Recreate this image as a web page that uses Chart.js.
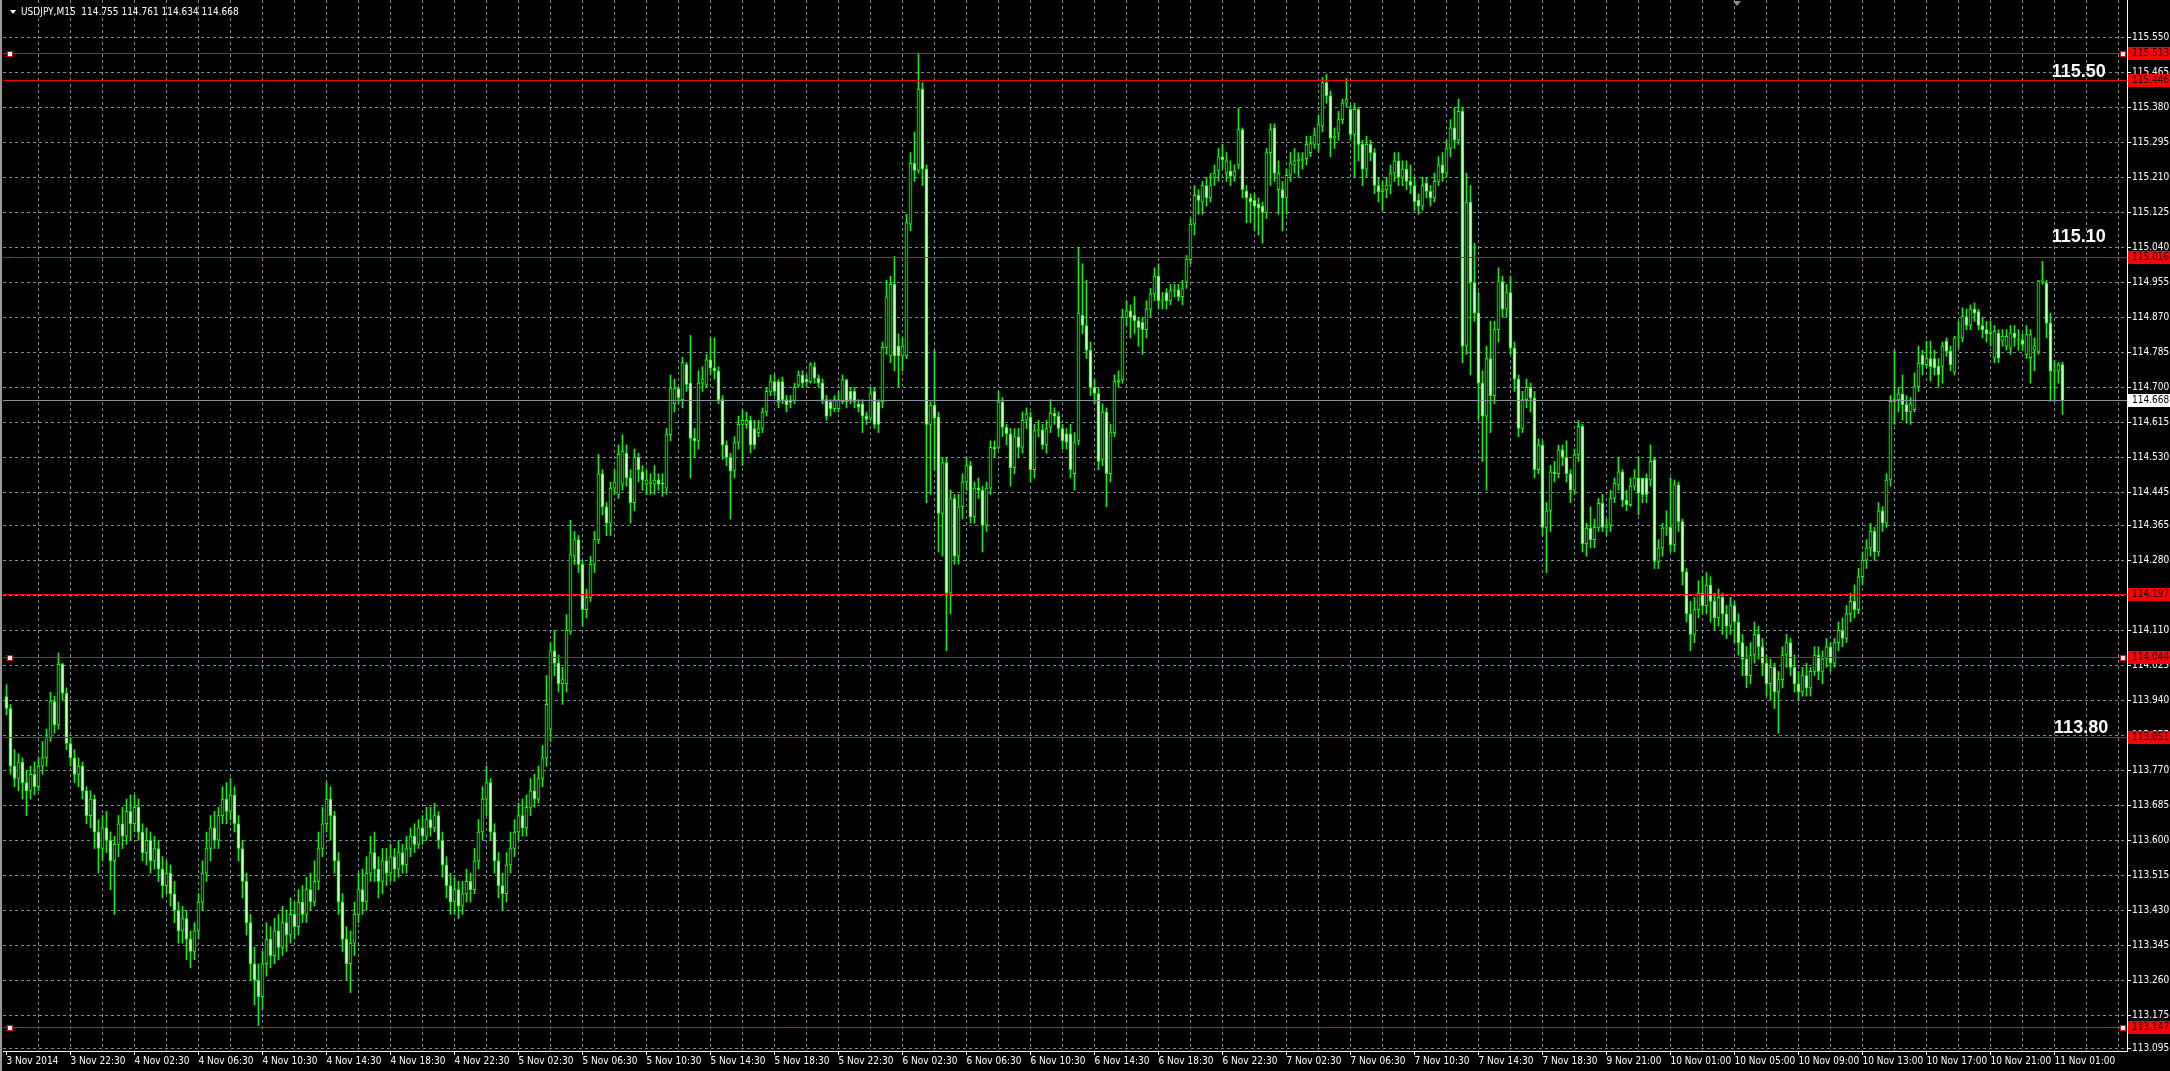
<!DOCTYPE html>
<html>
<head>
<meta charset="utf-8">
<script src="https://cdn.jsdelivr.net/npm/chart.js@4.4.1/dist/chart.umd.min.js"></script>
<style>
html, body { margin: 0; padding: 0; background: #000; overflow: hidden; }
canvas { display: block; position: absolute; left: 0; top: 0; }
</style>
</head>
<body>
<canvas id="chartM15" width="2170" height="1071"></canvas>
<script>
// USDJPY M15 candles, 3 Nov 2014 -> 11 Nov 2014
const openP = [
113.949,113.92,113.78,113.75,113.79,113.74,113.72,113.76,113.73,113.78,
113.80,113.85,113.937,113.88,114.027,113.957,113.835,113.80,113.76,113.78,
113.72,113.66,113.70,113.62,113.58,113.63,113.60,113.55,113.59,113.64,
113.61,113.67,113.64,113.68,113.62,113.57,113.60,113.55,113.58,113.53,
113.49,113.52,113.47,113.43,113.38,113.41,113.36,113.33,113.38,113.45,
113.52,113.58,113.63,113.60,113.66,113.70,113.67,113.71,113.64,113.58,
113.50,113.40,113.30,113.26,113.22,113.30,113.36,113.32,113.38,113.34,
113.40,113.37,113.42,113.39,113.45,113.42,113.48,113.45,113.50,113.58,
113.64,113.70,113.66,113.55,113.45,113.36,113.30,113.35,113.42,113.48,
113.45,113.52,113.57,113.53,113.50,113.55,113.52,113.56,113.53,113.57,
113.54,113.58,113.61,113.59,113.63,113.61,113.65,113.63,113.66,113.60,
113.54,113.49,113.45,113.48,113.44,113.47,113.50,113.48,113.55,113.62,
113.70,113.74,113.62,113.55,113.49,113.47,113.54,113.58,113.62,113.66,
113.63,113.68,113.72,113.70,113.75,113.80,113.87,114.06,114.03,113.98,
113.98,114.107,114.29,114.33,114.27,114.16,114.19,114.27,114.33,114.49,
114.41,114.37,114.455,114.44,114.465,114.54,114.48,114.42,114.53,114.495,
114.465,114.466,114.465,114.475,114.466,114.455,114.585,114.66,114.697,114.67,
114.755,114.71,114.576,114.57,114.71,114.706,114.767,114.747,114.74,114.67,
114.56,114.53,114.497,114.566,114.61,114.61,114.62,114.60,114.59,114.60,
114.64,114.69,114.714,114.714,114.714,114.67,114.665,114.668,114.705,114.73,
114.72,114.714,114.75,114.722,114.71,114.67,114.665,114.648,114.648,114.665,
114.718,114.69,114.69,114.66,114.66,114.63,114.625,114.69,114.665,114.665,
114.797,114.776,114.95,114.80,114.776,114.776,115.096,115.244,115.227,115.424,
115.23,114.61,114.657,114.628,114.394,114.517,114.20,114.43,114.29,114.41,
114.47,114.51,114.385,114.455,114.45,114.365,114.455,114.554,114.554,114.665,
114.603,114.587,114.505,114.58,114.554,114.62,114.628,114.50,114.595,114.597,
114.56,114.603,114.637,114.63,114.60,114.587,114.587,114.49,114.57,114.875,
114.85,114.79,114.70,114.685,114.525,114.64,114.49,114.59,114.714,114.718,
114.87,114.886,114.875,114.862,114.858,114.84,114.89,114.927,114.97,114.91,
114.93,114.91,114.935,114.937,114.92,114.955,115.01,115.096,115.166,115.15,
115.19,115.16,115.21,115.227,115.26,115.22,115.225,115.213,115.24,115.326,
115.177,115.16,115.154,115.145,115.14,115.125,115.27,115.33,115.18,115.18,
115.16,115.215,115.24,115.25,115.25,115.255,115.27,115.29,115.29,115.334,
115.44,115.408,115.305,115.317,115.35,115.39,115.375,115.314,115.375,115.29,
115.23,115.29,115.27,115.19,115.175,115.18,115.19,115.22,115.25,115.21,
115.23,115.20,115.19,115.155,115.14,115.196,115.176,115.16,115.20,115.24,
115.22,115.28,115.33,115.30,115.37,114.80,115.15,114.955,114.88,114.71,
114.63,114.77,114.68,114.84,114.957,114.89,114.93,114.795,114.72,114.60,
114.67,114.70,114.674,114.50,114.56,114.36,114.40,114.495,114.49,114.548,
114.53,114.49,114.45,114.536,114.605,114.32,114.358,114.33,114.36,114.418,
114.36,114.365,114.43,114.463,114.495,114.426,114.415,114.46,114.48,114.479,
114.479,114.475,114.524,114.277,114.31,114.358,114.36,114.317,114.463,114.374,
114.252,114.15,114.10,114.16,114.20,114.17,114.22,114.18,114.14,114.19,
114.15,114.12,114.17,114.13,114.08,114.04,114.00,114.05,114.10,114.07,
114.03,113.98,114.02,113.96,113.99,114.05,114.08,114.02,113.98,113.96,
114.00,113.97,114.01,114.05,114.01,114.04,114.07,114.03,114.08,114.11,
114.09,114.15,114.18,114.16,114.24,114.28,114.31,114.35,114.30,114.40,
114.37,114.475,114.666,114.67,114.684,114.658,114.64,114.646,114.702,114.778,
114.755,114.77,114.77,114.751,114.751,114.812,114.788,114.737,114.82,114.82,
114.872,114.85,114.89,114.884,114.85,114.84,114.83,114.771,114.832,114.812,
114.80,114.795,114.832,114.815,114.815,114.78,114.772,114.79,114.787,114.958,
114.953,114.856,114.739,114.74,114.755
];
const highP = [
113.978,113.93,113.82,113.81,113.80,113.77,113.78,113.79,113.80,113.84,
113.87,113.96,113.95,114.055,114.03,113.97,113.85,113.82,113.80,113.79,
113.73,113.72,113.71,113.65,113.66,113.67,113.62,113.61,113.66,113.68,
113.70,113.71,113.71,113.70,113.64,113.63,113.62,113.61,113.60,113.56,
113.55,113.54,113.50,113.45,113.44,113.43,113.38,113.40,113.47,113.55,
113.62,113.66,113.67,113.68,113.73,113.74,113.75,113.73,113.66,113.60,
113.52,113.42,113.34,113.30,113.33,113.40,113.39,113.41,113.42,113.44,
113.43,113.46,113.45,113.48,113.49,113.51,113.52,113.55,113.62,113.68,
113.74,113.73,113.67,113.57,113.47,113.39,113.38,113.45,113.52,113.53,
113.56,113.61,113.62,113.56,113.58,113.58,113.59,113.58,113.60,113.59,
113.61,113.63,113.64,113.65,113.66,113.68,113.68,113.69,113.67,113.62,
113.56,113.52,113.51,113.50,113.50,113.53,113.52,113.58,113.65,113.73,
113.78,113.75,113.64,113.57,113.52,113.57,113.62,113.65,113.69,113.70,
113.71,113.75,113.76,113.78,113.83,114.00,114.08,114.11,114.05,114.02,
114.148,114.377,114.35,114.34,114.28,114.21,114.29,114.35,114.537,114.50,
114.42,114.47,114.50,114.56,114.585,114.56,114.50,114.55,114.54,114.51,
114.50,114.49,114.51,114.49,114.49,114.60,114.73,114.72,114.70,114.773,
114.76,114.826,114.60,114.74,114.75,114.78,114.82,114.82,114.75,114.68,
114.57,114.54,114.58,114.63,114.645,114.64,114.63,114.62,114.62,114.65,
114.70,114.73,114.73,114.72,114.725,114.68,114.68,114.71,114.74,114.74,
114.73,114.76,114.76,114.73,114.72,114.68,114.67,114.68,114.69,114.73,
114.72,114.70,114.70,114.67,114.67,114.64,114.70,114.70,114.67,114.81,
114.96,114.97,115.018,114.83,114.82,115.12,115.27,115.32,115.512,115.44,
115.24,114.665,114.79,114.64,114.53,114.53,114.45,114.44,114.44,114.49,
114.53,114.52,114.47,114.48,114.46,114.47,114.57,114.57,114.69,114.675,
114.61,114.60,114.60,114.60,114.64,114.65,114.64,114.61,114.62,114.61,
114.62,114.67,114.65,114.64,114.61,114.60,114.61,114.59,115.04,115.00,
114.96,114.81,114.72,114.70,114.66,114.65,114.61,114.73,114.74,114.89,
114.91,114.90,114.92,114.87,114.87,114.91,114.94,114.99,115.00,114.93,
114.94,114.95,114.95,114.95,114.96,115.02,115.11,115.19,115.18,115.20,
115.21,115.22,115.24,115.28,115.29,115.27,115.25,115.24,115.378,115.33,
115.19,115.17,115.17,115.16,115.15,115.28,115.34,115.34,115.25,115.20,
115.23,115.27,115.28,115.27,115.27,115.31,115.31,115.33,115.36,115.452,
115.46,115.42,115.33,115.37,115.40,115.45,115.385,115.39,115.38,115.30,
115.31,115.30,115.28,115.21,115.20,115.21,115.24,115.27,115.27,115.25,
115.25,115.24,115.21,115.17,115.21,115.21,115.19,115.22,115.26,115.27,
115.30,115.35,115.38,115.40,115.38,115.22,115.19,115.05,114.93,114.74,
114.80,114.86,114.86,114.99,114.97,114.95,114.97,114.81,114.73,114.69,
114.72,114.71,114.69,114.575,114.57,114.42,114.51,114.52,114.56,114.56,
114.57,114.50,114.55,114.62,114.61,114.37,114.41,114.38,114.43,114.44,
114.38,114.45,114.48,114.53,114.50,114.45,114.48,114.50,114.53,114.48,
114.49,114.56,114.53,114.33,114.37,114.40,114.48,114.475,114.47,114.38,
114.26,114.18,114.19,114.23,114.24,114.25,114.24,114.20,114.21,114.20,
114.17,114.19,114.18,114.15,114.10,114.07,114.08,114.13,114.12,114.09,
114.05,114.04,114.03,114.01,114.07,114.10,114.09,114.05,114.01,114.02,
114.03,114.02,114.07,114.07,114.06,114.09,114.08,114.09,114.13,114.14,
114.17,114.20,114.22,114.26,114.30,114.33,114.37,114.36,114.42,114.41,
114.49,114.68,114.79,114.70,114.73,114.68,114.675,114.735,114.80,114.79,
114.812,114.812,114.79,114.77,114.81,114.82,114.80,114.824,114.86,114.893,
114.89,114.90,114.905,114.89,114.87,114.86,114.86,114.85,114.84,114.84,
114.84,114.85,114.85,114.84,114.83,114.85,114.84,114.82,114.96,115.006,
114.96,114.88,114.765,114.76,114.761
];
const lowP = [
113.905,113.76,113.73,113.72,113.70,113.66,113.70,113.71,113.72,113.76,
113.78,113.84,113.86,113.87,113.94,113.82,113.78,113.74,113.73,113.70,
113.64,113.63,113.58,113.52,113.55,113.57,113.48,113.42,113.56,113.58,
113.59,113.60,113.62,113.60,113.55,113.54,113.52,113.53,113.50,113.46,
113.47,113.44,113.40,113.35,113.35,113.31,113.29,113.31,113.36,113.43,
113.50,113.55,113.58,113.58,113.64,113.64,113.65,113.62,113.55,113.46,
113.37,113.26,113.20,113.15,113.19,113.27,113.29,113.30,113.31,113.32,
113.33,113.35,113.36,113.37,113.40,113.40,113.43,113.44,113.48,113.56,
113.62,113.60,113.52,113.42,113.33,113.26,113.23,113.32,113.40,113.42,
113.43,113.50,113.50,113.46,113.47,113.49,113.50,113.50,113.51,113.52,
113.52,113.56,113.57,113.58,113.59,113.60,113.61,113.62,113.58,113.51,
113.46,113.42,113.42,113.41,113.42,113.45,113.45,113.47,113.53,113.60,
113.66,113.60,113.52,113.46,113.43,113.45,113.52,113.56,113.60,113.61,
113.61,113.66,113.68,113.69,113.73,113.78,113.84,114.00,113.96,113.93,
113.96,114.10,114.27,114.25,114.12,114.14,114.18,114.25,114.32,114.39,
114.34,114.34,114.44,114.43,114.45,114.46,114.37,114.40,114.47,114.45,
114.44,114.44,114.44,114.45,114.435,114.44,114.57,114.64,114.66,114.65,
114.69,114.48,114.53,114.55,114.69,114.70,114.73,114.72,114.66,114.525,
114.51,114.38,114.48,114.55,114.51,114.60,114.54,114.55,114.58,114.59,
114.63,114.68,114.68,114.65,114.66,114.64,114.65,114.66,114.70,114.70,
114.70,114.71,114.71,114.70,114.66,114.62,114.63,114.64,114.64,114.66,
114.65,114.66,114.65,114.64,114.59,114.61,114.62,114.60,114.59,114.65,
114.78,114.76,114.74,114.70,114.74,114.77,115.08,115.20,115.22,115.19,
114.42,114.44,114.50,114.30,114.29,114.06,114.15,114.27,114.27,114.38,
114.45,114.37,114.37,114.43,114.30,114.35,114.44,114.53,114.55,114.58,
114.56,114.46,114.49,114.53,114.54,114.60,114.47,114.48,114.58,114.55,
114.54,114.59,114.61,114.58,114.55,114.55,114.48,114.45,114.56,114.83,
114.77,114.68,114.66,114.50,114.51,114.41,114.47,114.58,114.70,114.71,
114.85,114.82,114.83,114.80,114.78,114.82,114.87,114.91,114.89,114.89,
114.89,114.90,114.92,114.91,114.90,114.94,115.00,115.07,115.12,115.12,
115.14,115.15,115.19,115.20,115.23,115.20,115.19,115.20,115.23,115.16,
115.10,115.10,115.08,115.07,115.05,115.11,115.19,115.20,115.12,115.08,
115.12,115.20,115.22,115.21,115.23,115.24,115.26,115.28,115.27,115.32,
115.39,115.26,115.28,115.30,115.34,115.38,115.30,115.21,115.25,115.19,
115.21,115.25,115.17,115.15,115.13,115.16,115.17,115.20,115.19,115.19,
115.18,115.17,115.13,115.12,115.13,115.16,115.14,115.15,115.19,115.20,
115.21,115.26,115.28,115.29,114.76,114.78,114.73,114.86,114.62,114.52,
114.45,114.59,114.66,114.81,114.87,114.87,114.78,114.69,114.58,114.59,
114.65,114.64,114.48,114.49,114.34,114.25,114.35,114.47,114.48,114.51,
114.47,114.42,114.44,114.52,114.30,114.29,114.31,114.31,114.35,114.35,
114.34,114.35,114.42,114.45,114.41,114.40,114.41,114.45,114.39,114.42,
114.42,114.46,114.26,114.26,114.29,114.34,114.30,114.30,114.35,114.22,
114.13,114.06,114.08,114.14,114.15,114.15,114.13,114.11,114.12,114.10,
114.09,114.10,114.08,114.05,114.00,113.97,113.98,114.03,114.04,114.00,
113.95,113.94,113.92,113.86,113.97,114.02,114.00,113.96,113.94,113.95,
113.95,113.95,114.00,113.99,113.98,114.02,114.01,114.02,114.06,114.07,
114.08,114.13,114.14,114.15,114.22,114.26,114.29,114.28,114.29,114.35,
114.36,114.46,114.61,114.64,114.62,114.613,114.61,114.64,114.69,114.73,
114.747,114.715,114.73,114.70,114.71,114.775,114.74,114.73,114.795,114.81,
114.84,114.84,114.86,114.84,114.82,114.81,114.80,114.76,114.76,114.80,
114.79,114.78,114.80,114.79,114.79,114.77,114.71,114.74,114.78,114.95,
114.82,114.666,114.666,114.71,114.634
];
const closeP = [
113.92,113.78,113.75,113.79,113.74,113.72,113.76,113.73,113.78,113.80,
113.85,113.937,113.88,114.027,113.957,113.835,113.80,113.76,113.78,113.72,
113.66,113.70,113.62,113.58,113.63,113.60,113.55,113.59,113.64,113.61,
113.67,113.64,113.68,113.62,113.57,113.60,113.55,113.58,113.53,113.49,
113.52,113.47,113.43,113.38,113.41,113.36,113.33,113.38,113.45,113.52,
113.58,113.63,113.60,113.66,113.70,113.67,113.71,113.64,113.58,113.50,
113.40,113.30,113.26,113.22,113.30,113.36,113.32,113.38,113.34,113.40,
113.37,113.42,113.39,113.45,113.42,113.48,113.45,113.50,113.58,113.64,
113.70,113.66,113.55,113.45,113.36,113.30,113.35,113.42,113.48,113.45,
113.52,113.57,113.53,113.50,113.55,113.52,113.56,113.53,113.57,113.54,
113.58,113.61,113.59,113.63,113.61,113.65,113.63,113.66,113.60,113.54,
113.49,113.45,113.48,113.44,113.47,113.50,113.48,113.55,113.62,113.70,
113.74,113.62,113.55,113.49,113.47,113.54,113.58,113.62,113.66,113.63,
113.68,113.72,113.70,113.75,113.80,113.93,114.06,114.03,113.98,113.99,
114.11,114.294,114.33,114.27,114.16,114.19,114.27,114.33,114.49,114.41,
114.37,114.455,114.47,114.537,114.545,114.48,114.42,114.53,114.50,114.475,
114.475,114.467,114.475,114.465,114.465,114.585,114.697,114.697,114.675,114.76,
114.707,114.576,114.57,114.71,114.72,114.767,114.747,114.74,114.67,114.56,
114.53,114.497,114.566,114.61,114.62,114.62,114.56,114.56,114.60,114.64,
114.69,114.714,114.69,114.665,114.67,114.657,114.664,114.70,114.73,114.71,
114.714,114.755,114.722,114.71,114.67,114.63,114.648,114.67,114.67,114.718,
114.665,114.67,114.665,114.652,114.63,114.622,114.685,114.61,114.61,114.797,
114.92,114.95,114.776,114.776,114.80,115.10,115.244,115.227,115.424,115.23,
114.61,114.657,114.625,114.394,114.517,114.20,114.43,114.29,114.41,114.47,
114.51,114.385,114.455,114.45,114.365,114.455,114.554,114.55,114.665,114.603,
114.587,114.505,114.58,114.554,114.62,114.635,114.50,114.595,114.597,114.56,
114.60,114.637,114.63,114.60,114.57,114.567,114.50,114.567,114.88,114.85,
114.79,114.70,114.685,114.52,114.64,114.49,114.59,114.714,114.718,114.87,
114.886,114.87,114.862,114.845,114.84,114.89,114.927,114.97,114.91,114.912,
114.91,114.935,114.937,114.92,114.94,115.01,115.096,115.166,115.154,115.19,
115.16,115.19,115.22,115.26,115.253,115.25,115.213,115.225,115.326,115.18,
115.16,115.15,115.14,115.135,115.125,115.27,115.326,115.22,115.22,115.16,
115.215,115.245,115.25,115.255,115.253,115.29,115.292,115.313,115.338,115.44,
115.408,115.305,115.31,115.35,115.39,115.40,115.314,115.375,115.29,115.23,
115.29,115.27,115.19,115.175,115.18,115.19,115.22,115.25,115.21,115.23,
115.20,115.19,115.15,115.14,115.19,115.176,115.16,115.20,115.24,115.22,
115.28,115.33,115.30,115.37,114.80,115.15,114.955,114.88,114.71,114.63,
114.77,114.68,114.84,114.957,114.89,114.93,114.795,114.72,114.60,114.67,
114.70,114.674,114.50,114.56,114.36,114.40,114.495,114.49,114.548,114.53,
114.49,114.45,114.536,114.605,114.32,114.358,114.33,114.36,114.418,114.36,
114.365,114.43,114.467,114.495,114.426,114.415,114.46,114.48,114.443,114.439,
114.44,114.52,114.277,114.31,114.358,114.36,114.317,114.463,114.374,114.252,
114.15,114.10,114.16,114.20,114.17,114.22,114.18,114.14,114.19,114.15,
114.12,114.17,114.13,114.08,114.04,114.00,114.05,114.10,114.07,114.03,
113.98,114.02,113.96,113.99,114.05,114.08,114.02,113.98,113.96,114.00,
113.97,114.01,114.05,114.01,114.04,114.07,114.03,114.08,114.11,114.09,
114.15,114.18,114.16,114.24,114.28,114.31,114.35,114.30,114.40,114.37,
114.475,114.666,114.67,114.684,114.658,114.64,114.66,114.702,114.759,114.755,
114.77,114.75,114.747,114.73,114.80,114.788,114.755,114.82,114.82,114.872,
114.85,114.89,114.88,114.85,114.84,114.83,114.835,114.836,114.771,114.824,
114.824,114.832,114.82,114.816,114.804,114.828,114.828,114.80,114.958,114.96,
114.856,114.739,114.74,114.755,114.668
];

// one label every 16 bars (4 hours)
const timeLabels = [
  '3 Nov 2014', '3 Nov 22:30', '4 Nov 02:30', '4 Nov 06:30', '4 Nov 10:30', '4 Nov 14:30',
  '4 Nov 18:30', '4 Nov 22:30', '5 Nov 02:30', '5 Nov 06:30', '5 Nov 10:30', '5 Nov 14:30',
  '5 Nov 18:30', '5 Nov 22:30', '6 Nov 02:30', '6 Nov 06:30', '6 Nov 10:30', '6 Nov 14:30',
  '6 Nov 18:30', '6 Nov 22:30', '7 Nov 02:30', '7 Nov 06:30', '7 Nov 10:30', '7 Nov 14:30',
  '7 Nov 18:30', '9 Nov 21:00', '10 Nov 01:00', '10 Nov 05:00', '10 Nov 09:00', '10 Nov 13:00',
  '10 Nov 17:00', '10 Nov 21:00', '11 Nov 01:00'
];
const priceTicks = [
  115.550, 115.465, 115.380, 115.295, 115.210, 115.125, 115.040, 114.955, 114.870, 114.785,
  114.700, 114.615, 114.530, 114.445, 114.365, 114.280, 114.195, 114.110, 114.025, 113.940,
  113.855, 113.770, 113.685, 113.600, 113.515, 113.430, 113.345, 113.260, 113.175, 113.095
];

// horizontal lines drawn on the chart
const levels = [115.513, 115.446, 115.016, 114.197, 114.044, 113.851, 113.147];
const anchoredLevels = [115.513, 114.044, 113.147];
const bidPrice = 114.668;
const notes = [
  { text: '115.50', bar: 511.3, price: 115.453 },
  { text: '115.10', bar: 511.3, price: 115.054 },
  { text: '113.80', bar: 511.9, price: 113.860 }
];
const symbolName = 'USDJPY,M15';

const last = closeP.length - 1;
const headerText = symbolName + '  ' +
  [openP[last], highP[last], lowP[last], closeP[last]].map(v => v.toFixed(3)).join(' ');

const lime = '#00ff00';
const gridColor = 'rgb(119,136,153)';
const uiFamily = '"DejaVu Sans Condensed", "DejaVu Sans", sans-serif';
const axisFont = { family: uiFamily, size: 10 };

const bodies = closeP.map((c, i) => ({ x: i, y: [openP[i], c] }));
const wicks = closeP.map((c, i) => ({ x: i, y: [lowP[i], highP[i]] }));

const gridPlugin = {
  id: 'mtGrid',
  beforeDatasetsDraw(chart) {
    const { ctx, chartArea: a, scales: { x, y } } = chart;
    ctx.save();
    ctx.strokeStyle = gridColor;
    ctx.lineWidth = 1;
    ctx.setLineDash([3, 3]);
    ctx.beginPath();
    priceTicks.forEach(v => {
      const py = Math.round(y.getPixelForValue(v)) + 0.5;
      ctx.moveTo(a.left, py);
      ctx.lineTo(a.right, py);
    });
    for (let i = 8; i < x.max; i += 8) {
      const px = Math.floor(x.getPixelForValue(i)) + 0.5;
      ctx.moveTo(px, a.top);
      ctx.lineTo(px, a.bottom);
    }
    ctx.stroke();
    ctx.restore();
  }
};

const objectsPlugin = {
  id: 'mtObjects',
  afterDatasetsDraw(chart) {
    const { ctx, chartArea: a, scales: { x, y } } = chart;
    ctx.save();
    ctx.lineWidth = 1;

    // bid line
    let py = Math.round(y.getPixelForValue(bidPrice)) + 0.5;
    ctx.strokeStyle = '#8a949e';
    ctx.beginPath();
    ctx.moveTo(a.left, py);
    ctx.lineTo(a.right, py);
    ctx.stroke();

    // support / resistance lines
    ctx.strokeStyle = '#ff0000';
    levels.forEach(v => {
      py = Math.round(y.getPixelForValue(v)) + 0.5;
      ctx.beginPath();
      ctx.moveTo(a.left, py);
      ctx.lineTo(a.right, py);
      ctx.stroke();
    });

    // anchor squares of the selected lines
    anchoredLevels.forEach(v => {
      const cy = Math.round(y.getPixelForValue(v));
      [Math.round(x.getPixelForValue(0)) + 1, a.right - 6].forEach(cx => {
        ctx.fillStyle = '#ff0000';
        ctx.fillRect(cx - 1, cy - 2, 6, 6);
        ctx.fillStyle = '#ffffff';
        ctx.fillRect(cx, cy - 1, 4, 4);
      });
    });

    // text objects
    ctx.fillStyle = '#ffffff';
    ctx.font = 'bold 18px "Liberation Sans", Arial, sans-serif';
    ctx.textBaseline = 'alphabetic';
    ctx.textAlign = 'left';
    notes.forEach(n => {
      ctx.fillText(n.text, x.getPixelForValue(n.bar), y.getPixelForValue(n.price));
    });
    ctx.restore();
  },
  afterDraw(chart) {
    const { ctx, chartArea: a, scales: { y } } = chart;
    ctx.save();
    ctx.font = '10px ' + uiFamily;
    ctx.textBaseline = 'middle';
    ctx.textAlign = 'left';

    const tag = (v, bg) => {
      const cy = Math.round(y.getPixelForValue(v));
      ctx.fillStyle = bg;
      ctx.fillRect(a.right + 1, cy - 6, chart.width - a.right - 1, 13);
      ctx.fillStyle = '#000000';
      ctx.fillText(v.toFixed(3), a.right + 5, cy + 0.5);
    };
    levels.forEach(v => tag(v, '#ff0000'));
    tag(bidPrice, '#ffffff');

    // window frame on the left
    ctx.fillStyle = '#9a9a9a';
    ctx.fillRect(0, 0, 2, chart.height);

    // header: symbol, timeframe and last bar OHLC
    ctx.fillStyle = '#ffffff';
    ctx.beginPath();
    ctx.moveTo(10, 10);
    ctx.lineTo(16, 10);
    ctx.lineTo(13, 14);
    ctx.closePath();
    ctx.fill();
    ctx.textBaseline = 'alphabetic';
    ctx.fillText(headerText, 21, 15);

    // chart shift marker
    ctx.fillStyle = '#8c8c8c';
    ctx.beginPath();
    ctx.moveTo(1733, 1);
    ctx.lineTo(1741, 1);
    ctx.lineTo(1737, 6);
    ctx.closePath();
    ctx.fill();
    ctx.restore();
  }
};

new Chart(document.getElementById('chartM15'), {
  type: 'bar',
  data: {
    datasets: [
      {
        label: 'body',
        data: bodies,
        order: 0,
        grouped: false,
        categoryPercentage: 1,
        barPercentage: 1,
        maxBarThickness: 3,
        minBarLength: 1,
        borderWidth: 1,
        borderSkipped: false,
        borderColor: lime,
        backgroundColor: ctx => (closeP[ctx.dataIndex] < openP[ctx.dataIndex] ? '#ffffff' : '#000000')
      },
      {
        label: 'wick',
        data: wicks,
        order: 1,
        grouped: false,
        categoryPercentage: 1,
        barPercentage: 1,
        maxBarThickness: 1,
        borderWidth: 0,
        backgroundColor: lime
      }
    ]
  },
  options: {
    responsive: false,
    animation: false,
    events: [],
    layout: { padding: { left: 3, top: 0, right: 0, bottom: 0 } },
    plugins: { legend: { display: false }, tooltip: { enabled: false } },
    scales: {
      x: {
        type: 'linear',
        offset: false,
        min: -0.875,
        max: 530.125,
        bounds: 'data',
        afterBuildTicks: s => { s.ticks = timeLabels.map((t, k) => ({ value: k * 16 })); },
        afterFit: s => { s.height = 20; s.paddingLeft = 0; s.paddingRight = 0; },
        ticks: {
          autoSkip: false,
          maxRotation: 0,
          minRotation: 0,
          align: 'start',
          padding: 0,
          color: '#ffffff',
          font: axisFont,
          callback: v => timeLabels[Math.round(v / 16)]
        },
        grid: { offset: false, drawOnChartArea: false, drawTicks: true, tickLength: 4, tickColor: '#ffffff' },
        border: { display: true, color: '#ffffff', width: 1 }
      },
      y: {
        position: 'right',
        min: 113.0882,
        max: 115.6406,
        beginAtZero: false,
        bounds: 'data',
        afterBuildTicks: s => { s.ticks = priceTicks.map(v => ({ value: v })); },
        afterFit: s => { s.width = 43; s.paddingTop = 0; s.paddingBottom = 0; },
        ticks: {
          padding: 1,
          color: '#ffffff',
          font: axisFont,
          callback: v => v.toFixed(3)
        },
        grid: { drawOnChartArea: false, drawTicks: true, tickLength: 4, tickColor: '#ffffff' },
        border: { display: true, color: '#ffffff', width: 1 }
      }
    }
  },
  plugins: [gridPlugin, objectsPlugin]
});
</script>
</body>
</html>
